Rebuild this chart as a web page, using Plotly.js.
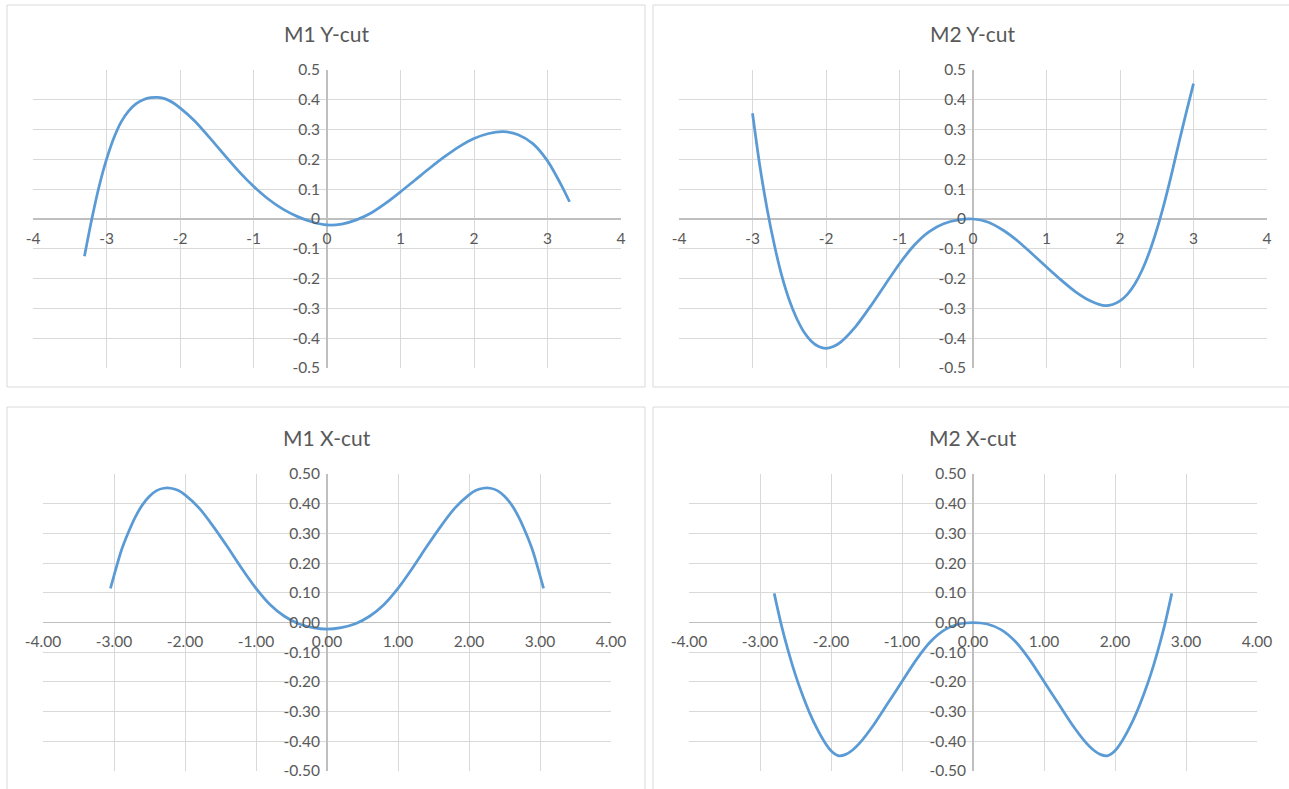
<!DOCTYPE html>
<html>
<head>
<meta charset="utf-8">
<script src="https://cdn.plot.ly/plotly-3.0.1.min.js"></script>
<style>
  html, body { margin: 0; padding: 0; background: #ffffff; }
  #chart { width: 1289px; height: 789px; }
</style>
</head>
<body>
<div id="chart"></div>
<script>
// ---- Data ----
const titles = ["M1 Y-cut", "M2 Y-cut", "M1 X-cut", "M2 X-cut"];

const m1yX = [-3.3,-3.2,-3.1,-3.0,-2.9,-2.8,-2.7,-2.6,-2.5,-2.4,-2.3,-2.2,-2.1,-2.0,-1.8,-1.6,-1.4,-1.2,-1.0,-0.8,-0.6,-0.4,-0.2,0,0.2,0.4,0.6,0.8,1.0,1.2,1.4,1.6,1.8,2.0,2.2,2.4,2.6,2.8,3.0,3.2,3.3];
const m1yY = [-0.125,0.0,0.11,0.2,0.272,0.326,0.362,0.386,0.4,0.407,0.408,0.403,0.391,0.373,0.329,0.274,0.216,0.16,0.11,0.067,0.033,0.008,-0.01,-0.02,-0.017,-0.003,0.02,0.053,0.091,0.131,0.171,0.209,0.243,0.27,0.287,0.293,0.283,0.253,0.195,0.108,0.058];

const m2yX = [-3.0,-2.9,-2.8,-2.7,-2.6,-2.5,-2.4,-2.3,-2.2,-2.1,-2.0,-1.9,-1.8,-1.6,-1.4,-1.2,-1.0,-0.8,-0.6,-0.4,-0.2,0,0.2,0.4,0.6,0.8,1.0,1.2,1.4,1.6,1.8,1.9,2.0,2.1,2.2,2.3,2.4,2.5,2.6,2.7,2.8,2.9,3.0];
const m2yY = [0.355,0.178,0.032,-0.09,-0.192,-0.272,-0.333,-0.379,-0.41,-0.428,-0.434,-0.428,-0.413,-0.362,-0.295,-0.222,-0.15,-0.088,-0.043,-0.016,-0.003,0,-0.01,-0.036,-0.072,-0.116,-0.161,-0.205,-0.245,-0.275,-0.291,-0.287,-0.275,-0.253,-0.219,-0.172,-0.111,-0.036,0.051,0.149,0.254,0.356,0.454];

const m1xX = [-3.05,-3.0,-2.9,-2.8,-2.7,-2.6,-2.5,-2.4,-2.3,-2.2,-2.1,-2.0,-1.8,-1.6,-1.4,-1.2,-1.0,-0.8,-0.6,-0.4,-0.2,0,0.2,0.4,0.6,0.8,1.0,1.2,1.4,1.6,1.8,2.0,2.1,2.2,2.3,2.4,2.5,2.6,2.7,2.8,2.9,3.0,3.05];
const m1xY = [0.115,0.158,0.24,0.302,0.355,0.396,0.425,0.444,0.452,0.452,0.445,0.43,0.385,0.323,0.254,0.182,0.115,0.06,0.021,-0.004,-0.017,-0.022,-0.017,-0.004,0.021,0.06,0.115,0.182,0.254,0.323,0.385,0.43,0.445,0.452,0.452,0.444,0.425,0.396,0.355,0.302,0.24,0.158,0.115];

const m2xX = [-2.8,-2.7,-2.6,-2.5,-2.4,-2.3,-2.2,-2.1,-2.0,-1.9,-1.8,-1.7,-1.6,-1.4,-1.2,-1.0,-0.8,-0.6,-0.4,-0.2,0,0.2,0.4,0.6,0.8,1.0,1.2,1.4,1.6,1.7,1.8,1.9,2.0,2.1,2.2,2.3,2.4,2.5,2.6,2.7,2.8];
const m2xY = [0.098,-0.008,-0.098,-0.177,-0.245,-0.305,-0.356,-0.399,-0.432,-0.448,-0.445,-0.43,-0.407,-0.345,-0.272,-0.199,-0.126,-0.065,-0.025,-0.005,0,-0.005,-0.025,-0.065,-0.126,-0.199,-0.272,-0.345,-0.407,-0.43,-0.445,-0.448,-0.432,-0.399,-0.356,-0.305,-0.245,-0.177,-0.098,-0.008,0.098];

// Tick labels
const xTickVals = [-4,-3,-2,-1,0,1,2,3,4];
const xTickTextTop = ["-4","-3","-2","-1","0","1","2","3","4"];
const xTickTextBot = ["-4.00","-3.00","-2.00","-1.00","0.00","1.00","2.00","3.00","4.00"];
const yTickVals = [-0.5,-0.4,-0.3,-0.2,-0.1,0,0.1,0.2,0.3,0.4,0.5];
const yTickTextTop = ["-0.5","-0.4","-0.3","-0.2","-0.1","0","0.1","0.2","0.3","0.4","0.5"];
const yTickTextBot = ["-0.50","-0.40","-0.30","-0.20","-0.10","0.00","0.10","0.20","0.30","0.40","0.50"];

// ---- Layout geometry ----
const W = 1289, H = 789;
const px = v => v / W;
const py = v => 1 - v / H;

const panels = [
  {xd: [px(33), px(621)],  yd: [py(368), py(70)],  tx: xTickTextTop, ty: yTickTextTop, box: [7, 5, 645, 387],   ty0: 34},
  {xd: [px(679), px(1267)], yd: [py(368), py(70)], tx: xTickTextTop, ty: yTickTextTop, box: [653, 5, 1295, 387], ty0: 34},
  {xd: [px(43), px(611)],  yd: [py(771), py(474)], tx: xTickTextBot, ty: yTickTextBot, box: [7, 407, 645, 800], ty0: 437},
  {xd: [px(689), px(1257)], yd: [py(771), py(474)], tx: xTickTextBot, ty: yTickTextBot, box: [653, 407, 1295, 800], ty0: 437}
];

const series = [[m1yX, m1yY], [m2yX, m2yY], [m1xX, m1xY], [m2xX, m2xY]];
const lineColor = "#5b9bd5";
const gridColor = "#d9d9d9";
const zeroColor = "#bfbfbf";
const textColor = "#595959";
const fontFamily = "Lato, 'Open Sans', sans-serif";

const data = [];
const layout = {
  width: W, height: H,
  margin: {l: 0, r: 0, t: 0, b: 0},
  paper_bgcolor: "#ffffff",
  plot_bgcolor: "#ffffff",
  showlegend: false,
  font: {family: fontFamily, color: textColor, size: 15},
  annotations: [],
  shapes: []
};

panels.forEach((p, i) => {
  const n = i === 0 ? "" : String(i + 1);
  data.push({
    type: "scatter", mode: "lines",
    x: series[i][0], y: series[i][1],
    xaxis: "x" + n, yaxis: "y" + n,
    line: {color: lineColor, width: 2.75, shape: "spline", smoothing: 0.7},
    hoverinfo: "x+y"
  });
  const xMid = (p.xd[0] + p.xd[1]) / 2;
  const yMid = (p.yd[0] + p.yd[1]) / 2;
  layout["xaxis" + n] = {
    domain: p.xd, range: [-4, 4],
    anchor: "free", position: yMid,
    tickmode: "array", tickvals: xTickVals, ticktext: p.tx,
    showgrid: true, gridcolor: gridColor, gridwidth: 1,
    zeroline: true, zerolinecolor: zeroColor, zerolinewidth: 1.5,
    showline: false, ticks: "", ticklabelstandoff: 8,
    tickfont: {family: fontFamily, color: textColor, size: 15.5},
    fixedrange: true
  };
  layout["yaxis" + n] = {
    domain: p.yd, range: [-0.5, 0.5],
    anchor: "free", position: xMid,
    tickmode: "array", tickvals: yTickVals, ticktext: p.ty,
    showgrid: true, gridcolor: gridColor, gridwidth: 1,
    zeroline: true, zerolinecolor: zeroColor, zerolinewidth: 1.5,
    showline: false, ticks: "", ticklabelstandoff: 7,
    tickfont: {family: fontFamily, color: textColor, size: 15.5},
    fixedrange: true
  };
  layout.annotations.push({
    xref: "paper", yref: "paper",
    x: xMid, y: py(p.ty0), xanchor: "center", yanchor: "middle",
    text: titles[i], showarrow: false,
    font: {family: fontFamily, color: textColor, size: 21}
  });
  layout.shapes.push({
    type: "rect", xref: "paper", yref: "paper", layer: "below",
    x0: px(p.box[0]), x1: px(p.box[2]), y0: py(p.box[3]), y1: py(p.box[1]),
    line: {color: gridColor, width: 1}, fillcolor: "rgba(0,0,0,0)"
  });
});

Plotly.newPlot("chart", data, layout, {displayModeBar: false, staticPlot: true});
</script>
</body>
</html>
